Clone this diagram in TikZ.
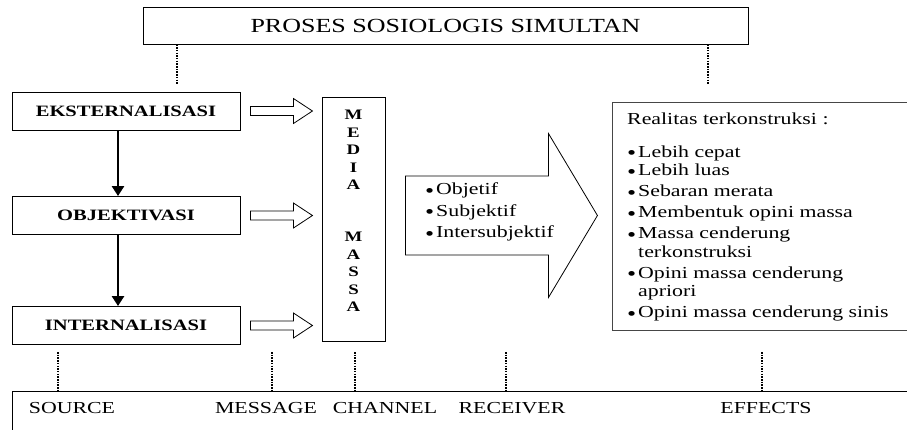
\documentclass[tikz,border=0pt]{standalone}
\usepackage{fontspec}
\setmainfont{Liberation Serif}[FakeStretch=1.3]
\usepackage{tikz}
\usetikzlibrary{arrows.meta,positioning,calc}
\definecolor{boxgrey}{RGB}{70,70,70}
\tikzstyle{titlebox} = [rectangle, draw, line width=0.9pt, minimum width=605pt, minimum height=37pt, inner sep=0pt, font=\fontsize{20}{24}\selectfont]
\tikzstyle{stagebox} = [rectangle, draw, line width=0.9pt, minimum width=228pt, minimum height=38pt, inner sep=0pt, font=\fontsize{15.8}{19}\selectfont\bfseries]
\tikzstyle{mediabox} = [rectangle, draw, line width=0.9pt, minimum width=63pt, minimum height=244pt, inner sep=0pt]
\tikzstyle{mediachar} = [align=center, inner sep=0pt, font=\fontsize{14.5}{17.5}\selectfont\bfseries]
\tikzstyle{downarrow} = [line width=2.8pt, -{Triangle[width=12pt,length=10pt]}]
\tikzstyle{hollow} = [draw, line width=0.8pt, fill=white, line join=miter]
\tikzstyle{dotline} = [line width=1.8pt, dash pattern=on 1.5pt off 1.2pt]
\tikzstyle{listtext} = [align=left, inner sep=0pt, anchor=north west, font=\fontsize{16.8}{18.5}\selectfont]
\tikzstyle{rolelabel} = [inner sep=0pt, font=\fontsize{16.8}{20}\selectfont]
\newcommand{\bul}{\makebox[11pt][l]{\raisebox{-2.5pt}[0pt][0pt]{\fontsize{20}{20}\selectfont\textbullet}}}
% hollow arrow from a stage box towards the media column
\newcommand{\blockarrow}[1]{%
  \draw[hollow] ($(#1.east)+(10,-4.5)$) -- ++(43,0) -- ++(0,-8) -- ++(19,12.5)
    -- ++(-19,12.5) -- ++(0,-8) -- ++(-43,0) -- cycle;}

\begin{document}
\begin{tikzpicture}[x=1pt, y=-1pt]
    \clip (0,0) rectangle (907,429);
    \node[titlebox] (proses) at (445.5,25.5) {PROSES SOSIOLOGIS SIMULTAN};

    % stages
    \node[stagebox] (ekst) at (126,111) {EKSTERNALISASI};
    \node[stagebox] (obj) at (126,215.5) {OBJEKTIVASI};
    \node[stagebox] (intern) at (126,325.5) {INTERNALISASI};

    \draw[downarrow] ($(ekst.south)+(-8,0)$) -- ($(obj.north)+(-8,0)$);
    \draw[downarrow] ($(obj.south)+(-8,0)$) -- ($(intern.north)+(-8,0)$);

    % media column
    \node[mediabox] (media) at (353.5,219) {};
    \node[mediachar] (media1) at (353.5,150) {M\\E\\D\\I\\A};
    \node[mediachar] (media2) at (353.5,272) {M\\A\\S\\S\\A};

    \blockarrow{ekst}
    \blockarrow{obj}
    \blockarrow{intern}

    % big arrow to the effects
    \draw[hollow] ($(media.east |- obj.east)+(20,-39.5)$) -- ++(143,0) -- ++(0,-42.5)
        -- ++(49,82) -- ++(-49,82) -- ++(0,-42.5) -- ++(-143,0) -- cycle;
    \node[listtext] (aspek) at (425,182.5)
        {\bul Objetif\\[3pt] \bul Subjektif\\[3pt] \bul Intersubjektif};

    % constructed reality
    \node[draw=boxgrey, line width=1.3pt, minimum width=320pt, minimum height=228pt,
        anchor=north west, inner sep=0pt] (realitas) at (612,102) {};
    \node[listtext] (efek) at (627,113) {Realitas terkonstruksi :\\[14pt]
        \bul Lebih cepat\\
        \bul Lebih luas\\[2.5pt]
        \bul Sebaran merata\\[2.5pt]
        \bul Membentuk opini massa\\[2.5pt]
        \bul Massa cenderung\\
        \hspace*{11pt}terkonstruksi\\[2.5pt]
        \bul Opini massa cenderung\\
        \hspace*{11pt}apriori\\[2.5pt]
        \bul Opini massa cenderung sinis};

    % communication roles
    \node[draw, line width=0.9pt, minimum width=940pt, minimum height=60pt,
        anchor=north west, inner sep=0pt] (rolebar) at (12,391) {};
    \node[rolelabel] (source) at (72,408) {SOURCE};
    \node[rolelabel] (message) at (266,408) {MESSAGE};
    \node[rolelabel] (channel) at (385,408) {CHANNEL};
    \node[rolelabel] (receiver) at (512,408) {RECEIVER};
    \node[rolelabel] (effects) at (766,408) {EFFECTS};

    \coordinate (t-left) at (177,84);
    \coordinate (t-right) at (708,84);
    \draw[dotline] (t-left |- proses.south) -- (t-left);
    \draw[dotline] (t-right |- proses.south) -- (t-right);

    \foreach \x/\n in {58/source,272/message,355/channel,506/receiver,762/effects}{
        \coordinate (d-\n) at (\x,352);
        \draw[dotline] (d-\n) -- (d-\n |- rolebar.north);
    }
\end{tikzpicture}
\end{document}
